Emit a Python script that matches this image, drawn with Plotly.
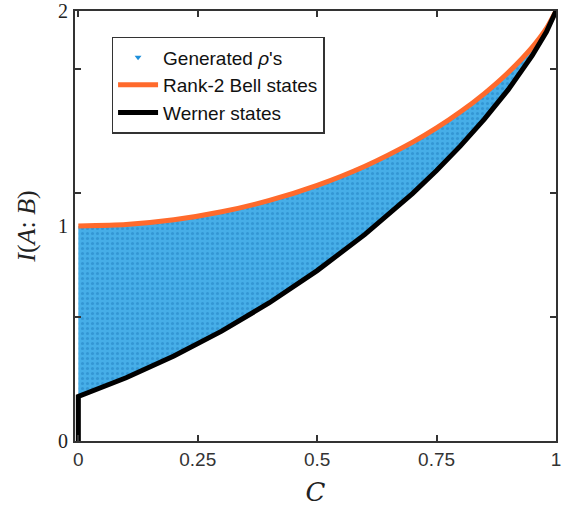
import plotly.graph_objects as go

# Concurrence values and mutual information along the two boundary families
bell_C = [0.0, 0.1, 0.2, 0.3, 0.4, 0.5, 0.6, 0.7, 0.75, 0.8, 0.85, 0.9, 0.95, 0.98, 1.0]
bell_I = [1.0, 1.007, 1.029, 1.066, 1.119, 1.189, 1.278, 1.390, 1.456, 1.531, 1.616, 1.714, 1.831, 1.919, 2.0]

werner_C = [0.0, 0.0, 0.1, 0.2, 0.3, 0.4, 0.5, 0.6, 0.7, 0.75, 0.8, 0.85, 0.9, 0.95, 0.98, 1.0]
werner_I = [0.0, 0.2075, 0.294, 0.395, 0.511, 0.643, 0.7925, 0.961, 1.152, 1.258, 1.3725, 1.497, 1.634, 1.792, 1.903, 2.0]

# Axis ticks
x_ticks = [0, 0.25, 0.5, 0.75, 1]
x_tick_text = ["0", "0.25", "0.5", "0.75", "1"]
y_label_vals = [0, 1, 2]
y_mark_vals = [0.577, 1.154, 1.731]

ORANGE = "#FF6A2C"
FILL_BG = "#46AEE8"
FILL_DOT = "#1F7DC0"

# Region of generated states: bounded below by Werner states (entangled part)
# and above by rank-2 Bell-diagonal states
region_x = werner_C[1:] + bell_C[::-1]
region_y = werner_I[1:] + bell_I[::-1]

fig = go.Figure()

fig.add_trace(go.Scatter(
    x=region_x, y=region_y, mode="lines", fill="toself",
    fillcolor=FILL_BG, line=dict(width=0, color=FILL_BG),
    fillpattern=dict(shape=".", bgcolor=FILL_BG, fgcolor=FILL_DOT,
                     size=5, solidity=0.3),
    showlegend=False, hoverinfo="skip"))

# Legend-only marker for the sampled states
fig.add_trace(go.Scatter(
    x=[None], y=[None], mode="markers", name="Generated <i>ρ</i>'s",
    marker=dict(symbol="triangle-down", size=6, color="#1E8FDA")))

fig.add_trace(go.Scatter(
    x=bell_C, y=bell_I, mode="lines", name="Rank-2 Bell states",
    line=dict(color=ORANGE, width=5, shape="spline", smoothing=0.6)))

fig.add_trace(go.Scatter(
    x=werner_C, y=werner_I, mode="lines", name="Werner states",
    line=dict(color="black", width=5)))

axis_line = dict(showline=True, linecolor="#333333", linewidth=1.5,
                 mirror="ticks", ticks="inside", ticklen=6, tickwidth=1.5,
                 tickcolor="#333333", showgrid=False, zeroline=False)

fig.update_layout(
    width=562, height=509,
    margin=dict(l=75, r=6, t=11, b=68),
    plot_bgcolor="white", paper_bgcolor="white",
    xaxis=dict(range=[-0.007, 1.0], tickvals=x_ticks, ticktext=x_tick_text,
               ticklabeloverflow="allow", automargin=False,
               tickfont=dict(family="Liberation Sans, Arial", size=19, color="#333333"),
               title=dict(text="<i>C</i>", font=dict(family="DejaVu Serif", size=26, color="#222"),
                          standoff=14),
               **axis_line),
    yaxis=dict(range=[0, 2], tickvals=y_mark_vals, ticktext=["", "", ""],
               automargin=False,
               title=dict(text="<i>I</i>(<i>A</i>: <i>B</i>)",
                          font=dict(family="Liberation Serif", size=26, color="#222"),
                          standoff=28),
               **axis_line),
    yaxis2=dict(range=[0, 2], overlaying="y", side="left", tickvals=y_label_vals,
                ticktext=["0", "1", "2"], ticks="", showline=False, showgrid=False,
                zeroline=False, ticklabelstandoff=6, automargin=False,
                tickfont=dict(family="Liberation Serif", size=20, color="#222")),
    legend=dict(x=0.076, y=0.94, xanchor="left", yanchor="top",
                bgcolor="white", bordercolor="#333333", borderwidth=1.5,
                font=dict(family="Liberation Sans, Arial", size=19, color="#111"),
                itemwidth=40, tracegroupgap=0),
)

# Attach a hidden trace so the label axis is drawn
fig.add_trace(go.Scatter(x=[None], y=[None], yaxis="y2", showlegend=False, hoverinfo="skip"))

fig.write_html("out.html")
